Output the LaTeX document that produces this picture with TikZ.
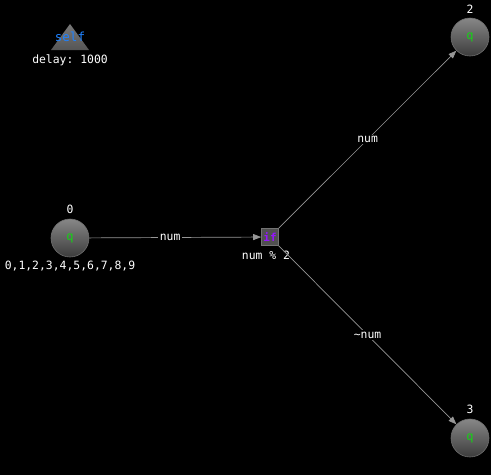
\documentclass[tikz,border=0pt]{standalone}
\usepackage{fontspec}
\setmonofont{DejaVu Sans Mono}
\usetikzlibrary{shapes.geometric,arrows.meta}
\definecolor{edgegray}{RGB}{150,150,150}
\definecolor{qgreen}{RGB}{20,210,20}
\definecolor{ifpurple}{RGB}{150,20,255}
\definecolor{selfblue}{RGB}{30,130,255}
\tikzset{
  txt/.style={text=white,font=\ttfamily\fontsize{11.4}{11.4}\selectfont,inner sep=1pt},
  qnode/.style={circle,minimum size=38pt,inner sep=0pt,draw={rgb,255:red,110;green,110;blue,110},line width=0.6pt,
    top color={rgb,255:red,135;green,135;blue,135},bottom color={rgb,255:red,60;green,60;blue,60},
    text=qgreen,font=\ttfamily\fontsize{12}{12}\selectfont},
  ifnode/.style={rectangle,minimum size=17pt,inner sep=0pt,fill={rgb,255:red,80;green,80;blue,80},
    draw={rgb,255:red,115;green,115;blue,115},line width=0.6pt,text=ifpurple,font=\ttfamily\bfseries\fontsize{11}{11}\selectfont},
  conn/.style={draw=edgegray,line width=0.7pt,-{Triangle[length=8pt,width=6pt,fill=edgegray]}},
  elabel/.style={txt,fill=black,inner sep=1.5pt},
  trishape/.style={top color={rgb,255:red,120;green,120;blue,120},bottom color={rgb,255:red,85;green,85;blue,85}}
}
\begin{document}
\begin{tikzpicture}[x=1pt,y=-1pt]
\fill[black] (0,0) rectangle (491,475);
\useasboundingbox (0,0) rectangle (491,475);
% self trigger
\coordinate (selfc) at (70,37);
\shade[trishape] (51,50) -- (70,24) -- (89,50) -- cycle;
\node[txt,text=selfblue,font=\ttfamily\fontsize{12.5}{12.5}\selectfont] (selftxt) at (selfc) {self};
\node[txt] (delay) at (70,60) {delay: 1000};
% nodes
\node[qnode] (n0) at (70,238) {q};
\node[txt] (l0) at (70,209) {0};
\node[txt] (vals) at (70,266) {0,1,2,3,4,5,6,7,8,9};
\node[ifnode] (if) at (270,237) {if};
\node[txt] (iflab) at (266,255) {num \% 2};
\node[qnode] (n2) at (470,37) {q};
\node[txt] (l2) at (470,9) {2};
\node[qnode] (n3) at (470,438) {q};
\node[txt] (l3) at (470,409) {3};
% connectors
\draw[conn] (n0) -- (if) node[elabel,pos=0.47] (e1) {num};
\draw[conn] (if) -- (n2) node[elabel,pos=0.5] (e2) {num};
\draw[conn] (if) -- (n3) node[elabel,pos=0.5] (e3) {\char`\~num};
\end{tikzpicture}
\end{document}
